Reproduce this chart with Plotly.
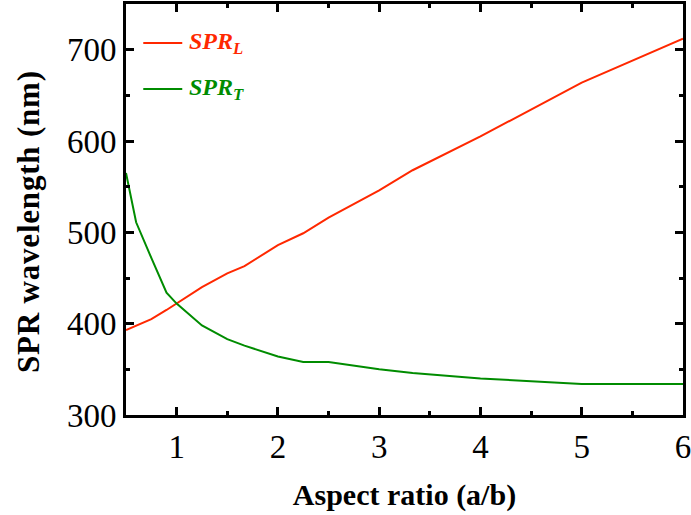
import plotly.graph_objects as go

aspect_ratio = [0.5, 0.6, 0.75, 0.9, 1.0, 1.25, 1.5, 1.67, 2.0, 2.25, 2.5, 3.0, 3.33, 4.0, 5.0, 6.0]
spr_l = [393, 398, 405, 415, 422, 440, 455, 463, 486, 499, 516, 546, 568, 605, 664, 712]
spr_t = [565, 511, 472, 434, 422, 398, 383, 376, 364, 358, 358, 350, 346, 340, 334, 334]

RED = "rgb(255,40,0)"
GREEN = "rgb(0,140,0)"
FONT = "Liberation Serif, Times New Roman, serif"

fig = go.Figure()
fig.add_trace(go.Scatter(x=aspect_ratio, y=spr_l, mode="lines",
                         line=dict(color=RED, width=2), showlegend=False))
fig.add_trace(go.Scatter(x=aspect_ratio, y=spr_t, mode="lines",
                         line=dict(color=GREEN, width=2), showlegend=False))

axis_common = dict(
    showline=True, linecolor="black", linewidth=3, mirror="allticks",
    ticks="inside", ticklen=8, tickwidth=2.5, tickcolor="black",
    showgrid=False, zeroline=False, ticklabeloverflow="allow",
    tickfont=dict(family=FONT, size=33, color="black"),
)

fig.update_xaxes(range=[0.5, 6], tick0=0, dtick=1,
                 minor=dict(ticks="inside", ticklen=4, tickwidth=2.5, dtick=0.5, tick0=0, tickcolor="black"),
                 title=dict(text="<b>Aspect ratio (a/b)</b>", font=dict(family=FONT, size=30, color="black"), standoff=21),
                 **axis_common)
fig.update_yaxes(range=[300, 750], tick0=300, dtick=100,
                 minor=dict(ticks="inside", ticklen=4, tickwidth=2.5, dtick=50, tick0=300, tickcolor="black"),
                 **axis_common)

# y-axis title placed as an annotation for exact positioning
fig.add_annotation(xref="paper", yref="paper", x=-0.176, y=0.472, xanchor="center", yanchor="middle",
                   textangle=-90, showarrow=False,
                   text='<span style="letter-spacing:0.8px"><b>SPR wavelength (nm)</b></span>',
                   font=dict(family=FONT, size=31, color="black"))

# legend samples
fig.add_shape(type="line", xref="paper", yref="paper", x0=0.031, x1=0.101, y0=0.905, y1=0.905,
              line=dict(color=RED, width=2))
fig.add_shape(type="line", xref="paper", yref="paper", x0=0.031, x1=0.101, y0=0.793, y1=0.793,
              line=dict(color=GREEN, width=2))
fig.add_annotation(xref="paper", yref="paper", x=0.109, y=0.905, xanchor="left", yanchor="middle",
                   text="<b><i>SPR<sub>L</sub></i></b>", showarrow=False,
                   font=dict(family=FONT, size=24, color=RED))
fig.add_annotation(xref="paper", yref="paper", x=0.109, y=0.793, xanchor="left", yanchor="middle",
                   text="<b><i>SPR<sub>T</sub></i></b>", showarrow=False,
                   font=dict(family=FONT, size=24, color=GREEN))

fig.update_layout(width=691, height=515,
                  margin=dict(l=126, r=8, t=4, b=100, autoexpand=False),
                  paper_bgcolor="white", plot_bgcolor="white")

fig.write_html("out.html", config={"displayModeBar": False},
               post_script="document.body.style.margin='0';")
